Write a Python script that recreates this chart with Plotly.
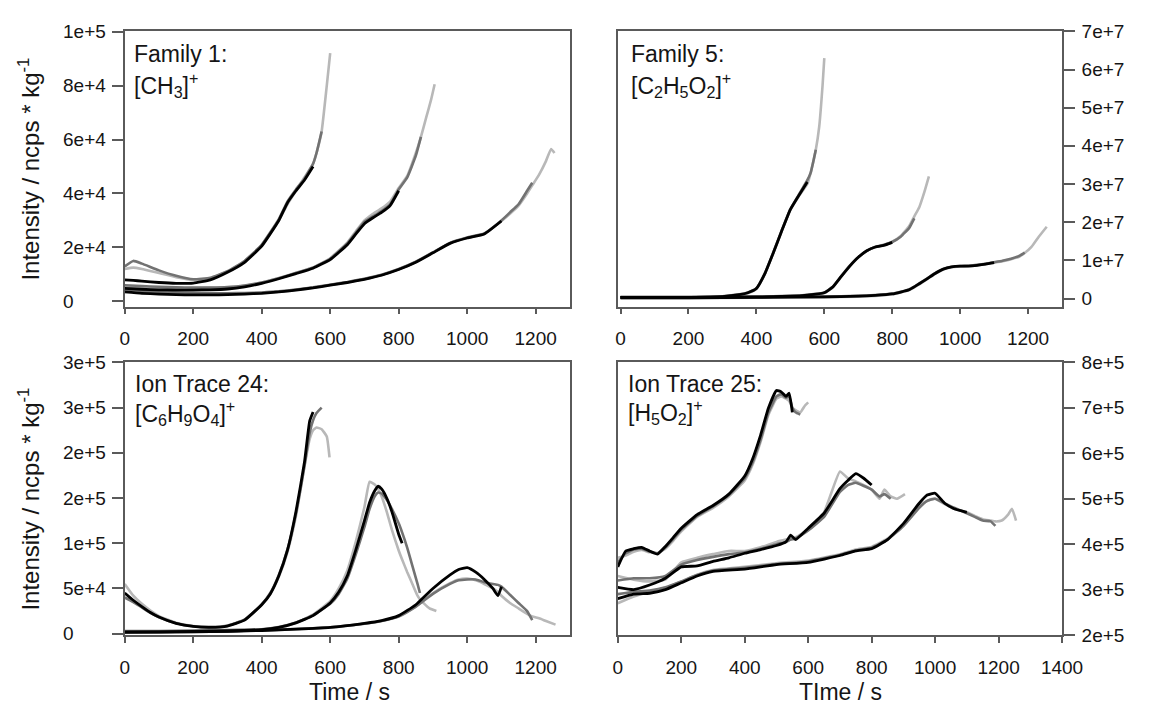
import plotly.graph_objects as go

W, H = 1149, 714

# ---------------- Panel 1: Family 1, [CH3]+ ----------------
P1A_T = [0, 25, 50, 100, 150, 200, 250, 300, 350, 400, 450, 475, 500, 525, 550, 560, 575, 590, 600]
P1A_K = [8000, 7800, 7500, 7000, 6700, 6800, 8000, 10800, 14500, 20500, 30000, 36500, 41000, 45000, 50000]
P1A_D = [13000, 15000, 14000, 11500, 9500, 8200, 8800, 11200, 15000, 21000, 30500, 37000, 41500, 45500, 51000, 55000, 63000]
P1A_L = [12000, 12500, 12000, 10500, 9000, 8000, 8500, 11000, 15000, 21000, 30000, 36000, 41000, 46000, 51000, 55000, 63000, 80000, 92000]

P1B_T = [0, 50, 100, 150, 200, 250, 300, 350, 400, 450, 500, 550, 600, 650, 675, 700, 725, 750, 775, 800, 825, 850, 865, 880, 895, 905]
P1B_K = [4800, 4500, 4300, 4200, 4200, 4300, 4600, 5400, 6700, 8400, 10300, 12300, 15500, 21000, 25000, 28800, 31000, 33000, 35500, 41000]
P1B_D = [6000, 5700, 5400, 5200, 5100, 5100, 5300, 5900, 7000, 8600, 10500, 12500, 15800, 21500, 25500, 29500, 31500, 33500, 36000, 41500, 46000, 54000, 61000]
P1B_L = [5500, 5200, 5000, 4900, 4900, 5000, 5200, 5800, 7000, 8700, 10600, 12600, 16000, 21800, 26000, 30000, 32500, 34500, 37000, 42000, 46500, 55000, 61000, 68000, 75000, 80500]

P1C_T = [0, 50, 100, 150, 200, 250, 300, 350, 400, 450, 500, 550, 600, 650, 700, 750, 800, 850, 900, 950, 1000, 1050, 1100, 1125, 1150, 1175, 1190, 1210, 1230, 1245, 1255]
P1C_K = [3500, 3000, 2700, 2500, 2400, 2400, 2500, 2700, 3000, 3500, 4200, 5000, 6000, 7000, 8200, 9700, 11800, 14500, 18000, 21500, 23500, 25000, 29800]
P1C_D = [4500, 4000, 3600, 3300, 3100, 3000, 3000, 3100, 3300, 3700, 4400, 5200, 6200, 7200, 8400, 9900, 12000, 14700, 18200, 21700, 23700, 25200, 30000, 33000, 36000, 41000, 44000]
P1C_L = [4200, 3800, 3400, 3100, 2900, 2800, 2800, 2900, 3200, 3600, 4300, 5100, 6100, 7100, 8300, 9800, 11900, 14600, 18100, 21600, 23600, 25000, 29800, 32500, 35500, 40000, 43000, 47000, 52000, 56500, 55000]

# ---------------- Panel 2: Family 5, [C2H5O2]+ ----------------
P2A_T = [0, 100, 200, 300, 350, 375, 400, 425, 450, 475, 500, 525, 550, 560, 575, 585, 595, 600]
P2A_K = [3e5, 3e5, 3e5, 5e5, 1.0e6, 1.5e6, 2.6e6, 6.5e6, 1.2e7, 1.78e7, 2.33e7, 2.7e7, 3.05e7]
P2A_D = [4e5, 4e5, 4e5, 6e5, 1.1e6, 1.6e6, 2.7e6, 6.6e6, 1.21e7, 1.79e7, 2.34e7, 2.72e7, 3.1e7, 3.3e7, 3.9e7]
P2A_L = [2e5, 2e5, 2e5, 4e5, 9e5, 1.4e6, 2.5e6, 6.4e6, 1.19e7, 1.77e7, 2.32e7, 2.68e7, 3.0e7, 3.3e7, 3.9e7, 4.5e7, 5.6e7, 6.3e7]

P2B_T = [0, 200, 400, 500, 550, 600, 625, 650, 675, 700, 725, 750, 775, 800, 825, 850, 865, 880, 895, 908]
P2B_K = [3e5, 3e5, 4e5, 6e5, 9e5, 1.5e6, 3.0e6, 5.8e6, 8.5e6, 1.08e7, 1.25e7, 1.35e7, 1.39e7, 1.47e7]
P2B_D = [4e5, 4e5, 5e5, 7e5, 1.0e6, 1.6e6, 3.1e6, 5.9e6, 8.6e6, 1.08e7, 1.25e7, 1.35e7, 1.4e7, 1.48e7, 1.62e7, 1.85e7, 2.1e7]
P2B_L = [2e5, 2e5, 3e5, 5e5, 8e5, 1.4e6, 2.9e6, 5.7e6, 8.4e6, 1.07e7, 1.25e7, 1.35e7, 1.41e7, 1.49e7, 1.64e7, 1.9e7, 2.15e7, 2.4e7, 2.8e7, 3.2e7]

P2C_T = [0, 200, 400, 600, 700, 750, 800, 850, 900, 925, 950, 975, 1000, 1025, 1050, 1075, 1100, 1125, 1150, 1175, 1190, 1210, 1230, 1255]
P2C_K = [2e5, 2e5, 3e5, 4e5, 6e5, 8e5, 1.2e6, 2.3e6, 5.0e6, 6.5e6, 7.7e6, 8.3e6, 8.5e6, 8.5e6, 8.7e6, 9.0e6, 9.4e6]
P2C_D = [3e5, 3e5, 4e5, 5e5, 7e5, 9e5, 1.3e6, 2.4e6, 5.1e6, 6.6e6, 7.7e6, 8.3e6, 8.5e6, 8.6e6, 8.8e6, 9.1e6, 9.5e6, 9.9e6, 1.04e7, 1.12e7, 1.2e7]
P2C_L = [1e5, 1e5, 2e5, 3e5, 5e5, 7e5, 1.1e6, 2.2e6, 4.9e6, 6.4e6, 7.6e6, 8.2e6, 8.4e6, 8.5e6, 8.7e6, 9.0e6, 9.4e6, 9.8e6, 1.03e7, 1.1e7, 1.19e7, 1.35e7, 1.6e7, 1.88e7]

# ---------------- Panel 3: Ion Trace 24, [C6H9O4]+ ----------------
P3A_T = [0, 25, 50, 75, 100, 150, 200, 250, 300, 350, 400, 425, 450, 475, 500, 525, 540, 550, 560, 575, 590, 598]
P3A_K = [45000, 37000, 30000, 23500, 18500, 11500, 8000, 7000, 8500, 15000, 32000, 44000, 64000, 92000, 135000, 190000, 235000, 245000]
P3A_D = [40000, 35000, 29000, 23000, 18000, 11500, 8200, 7300, 8800, 15500, 32500, 45000, 65000, 93000, 133000, 186000, 222000, 236000, 244000, 250000]
P3A_L = [55000, 42000, 33000, 25500, 19500, 12000, 8500, 7500, 9000, 15500, 32000, 44000, 63000, 90000, 130000, 185000, 215000, 225000, 228000, 226000, 218000, 195000]

P3B_T = [0, 100, 200, 300, 400, 450, 500, 550, 600, 625, 650, 675, 700, 715, 730, 740, 750, 765, 780, 800, 810, 825, 840, 855, 862, 875, 890, 910]
P3B_K = [2000, 2000, 2500, 3000, 4500, 7000, 12000, 20000, 34000, 46000, 64000, 93000, 125000, 145000, 158000, 163000, 160000, 150000, 135000, 110000, 100000]
P3B_D = [3000, 3000, 3500, 4000, 5000, 7500, 12500, 20500, 33000, 44000, 61000, 88000, 118000, 138000, 152000, 156000, 155000, 148000, 138000, 122000, 112000, 95000, 75000, 55000, 45000]
P3B_L = [1500, 1500, 2000, 2500, 4000, 6500, 12000, 21000, 36000, 50000, 70000, 102000, 140000, 168000, 165000, 160000, 152000, 135000, 115000, 92000, 82000, 68000, 55000, 42000, 38000, 33000, 28000, 25000]

P3C_T = [0, 200, 400, 500, 600, 700, 750, 800, 850, 900, 950, 975, 1000, 1025, 1050, 1075, 1090, 1100, 1125, 1150, 1175, 1190, 1210, 1230, 1258]
P3C_K = [1500, 2000, 3500, 5000, 7000, 11500, 14500, 20000, 32000, 50000, 65000, 71000, 73000, 68000, 60000, 50000, 42000, 52000]
P3C_D = [2500, 2500, 3800, 5200, 7200, 11000, 14000, 19000, 30000, 44000, 55000, 59000, 60000, 60000, 57000, 55000, 54000, 52000, 43000, 34000, 25000, 15000]
P3C_L = [2000, 2200, 3600, 5000, 7000, 11000, 14000, 19500, 30000, 45000, 56000, 60000, 61000, 59000, 55000, 50000, 46000, 42000, 34000, 28000, 22000, 19000, 17000, 14000, 10000]

# ---------------- Panel 4: Ion Trace 25, [H5O2]+ ----------------
P4A_T = [0, 25, 50, 75, 100, 125, 150, 175, 200, 250, 300, 350, 400, 425, 450, 475, 500, 515, 530, 540, 550, 560, 575, 590, 600]
P4A_K = [350000, 385000, 390000, 393000, 385000, 378000, 395000, 415000, 435000, 465000, 485000, 510000, 550000, 588000, 640000, 700000, 738000, 735000, 725000, 732000, 690000]
P4A_D = [360000, 380000, 388000, 390000, 384000, 380000, 393000, 412000, 432000, 462000, 483000, 508000, 545000, 580000, 630000, 690000, 725000, 730000, 722000, 725000, 700000, 690000, 685000]
P4A_L = [370000, 375000, 383000, 387000, 382000, 380000, 390000, 408000, 428000, 460000, 480000, 505000, 540000, 575000, 625000, 685000, 720000, 725000, 720000, 715000, 700000, 695000, 690000, 705000, 712000]

P4B_T = [0, 50, 100, 150, 200, 250, 300, 350, 400, 450, 500, 530, 545, 560, 600, 650, 700, 725, 750, 775, 800, 825, 840, 860, 880, 905]
P4B_K = [305000, 300000, 310000, 325000, 350000, 352000, 362000, 370000, 380000, 388000, 397000, 405000, 420000, 410000, 435000, 468000, 522000, 540000, 555000, 545000, 530000]
P4B_D = [320000, 325000, 325000, 330000, 355000, 365000, 372000, 378000, 382000, 390000, 400000, 405000, 410000, 412000, 430000, 460000, 515000, 530000, 535000, 528000, 520000, 505000, 510000, 500000]
P4B_L = [330000, 322000, 318000, 322000, 360000, 370000, 378000, 385000, 385000, 393000, 405000, 410000, 412000, 415000, 432000, 470000, 560000, 545000, 538000, 530000, 520000, 500000, 520000, 505000, 500000, 510000]

P4C_T = [0, 50, 100, 150, 200, 250, 300, 400, 500, 600, 700, 750, 800, 850, 900, 950, 975, 1000, 1030, 1060, 1100, 1125, 1150, 1175, 1190, 1210, 1230, 1242, 1255]
P4C_K = [280000, 290000, 292000, 300000, 315000, 330000, 340000, 345000, 355000, 360000, 375000, 385000, 390000, 410000, 445000, 490000, 508000, 512000, 490000, 478000, 470000]
P4C_D = [290000, 295000, 298000, 305000, 318000, 332000, 342000, 348000, 356000, 362000, 376000, 386000, 392000, 410000, 440000, 480000, 495000, 500000, 490000, 480000, 468000, 460000, 452000, 450000, 440000]
P4C_L = [270000, 285000, 295000, 303000, 318000, 333000, 343000, 350000, 358000, 364000, 378000, 388000, 394000, 412000, 442000, 485000, 495000, 500000, 488000, 478000, 470000, 462000, 455000, 452000, 450000, 452000, 465000, 478000, 452000]

# ---------------- Ticks ----------------
X_TICKS_A = [0, 200, 400, 600, 800, 1000, 1200]
X_TICKS_B = [0, 200, 400, 600, 800, 1000, 1200, 1400]
Y1_TICKS = [0, 2e4, 4e4, 6e4, 8e4, 1e5]
Y1_LABELS = ["0", "2e+4", "4e+4", "6e+4", "8e+4", "1e+5"]
Y2_TICKS = [0, 1e7, 2e7, 3e7, 4e7, 5e7, 6e7, 7e7]
Y2_LABELS = ["0", "1e+7", "2e+7", "3e+7", "4e+7", "5e+7", "6e+7", "7e+7"]
Y3_TICKS = [0, 5e4, 1e5, 1.5e5, 2e5, 2.5e5, 3e5]
Y3_LABELS = ["0", "5e+4", "1e+5", "2e+5", "2e+5", "3e+5", "3e+5"]
Y4_TICKS = [2e5, 3e5, 4e5, 5e5, 6e5, 7e5, 8e5]
Y4_LABELS = ["2e+5", "3e+5", "4e+5", "5e+5", "6e+5", "7e+5", "8e+5"]

PANEL_TITLES = ["Family 1:", "Family 5:", "Ion Trace 24:", "Ion Trace 25:"]
PANEL_IONS = ["[CH<sub>3</sub>]<sup>+</sup>", "[C<sub>2</sub>H<sub>5</sub>O<sub>2</sub>]<sup>+</sup>",
              "[C<sub>6</sub>H<sub>9</sub>O<sub>4</sub>]<sup>+</sup>", "[H<sub>5</sub>O<sub>2</sub>]<sup>+</sup>"]

COL_K, COL_D, COL_L = "#000000", "#727272", "#b8b8b8"
FONT = "Liberation Sans, Arial, sans-serif"
TXT = "#151515"

panels = [
    ("x", "y", [(P1A_T, P1A_K, P1A_D, P1A_L), (P1B_T, P1B_K, P1B_D, P1B_L), (P1C_T, P1C_K, P1C_D, P1C_L)]),
    ("x2", "y2", [(P2A_T, P2A_K, P2A_D, P2A_L), (P2B_T, P2B_K, P2B_D, P2B_L), (P2C_T, P2C_K, P2C_D, P2C_L)]),
    ("x3", "y3", [(P3A_T, P3A_K, P3A_D, P3A_L), (P3B_T, P3B_K, P3B_D, P3B_L), (P3C_T, P3C_K, P3C_D, P3C_L)]),
    ("x4", "y4", [(P4A_T, P4A_K, P4A_D, P4A_L), (P4B_T, P4B_K, P4B_D, P4B_L), (P4C_T, P4C_K, P4C_D, P4C_L)]),
]

fig = go.Figure()
for xa, ya, groups in panels:
    for col, idx, lw in ((COL_L, 3, 2.6), (COL_D, 2, 2.6), (COL_K, 1, 2.8)):
        for g in groups:
            t = g[0]
            v = g[idx]
            fig.add_trace(go.Scatter(x=t[:len(v)], y=v, mode="lines", xaxis=xa, yaxis=ya,
                                     line=dict(color=col, width=lw, shape="spline", smoothing=0.4),
                                     showlegend=False, hoverinfo="skip"))


def px(xp):
    return xp / W


def py(yp):
    return 1 - yp / H


XL = [px(122.5), px(578)]
XR = [px(627), px(1081.5)]
YT = [py(305.5), py(22)]
YB = [py(644), py(363)]

axis_common = dict(showline=True, linecolor="#5a5a5a", linewidth=1.5, mirror=True,
                   ticks="outside", tickcolor="#5a5a5a", tickwidth=1.5, showgrid=False,
                   zeroline=False, tickfont=dict(family=FONT, size=19, color=TXT))


def xax(domain, anchor, rng, ticks):
    d = dict(axis_common)
    d.update(domain=domain, anchor=anchor, range=rng, tickvals=ticks,
             ticktext=[str(v) for v in ticks], ticklen=6, ticklabelstandoff=8)
    return d


def yax(domain, anchor, rng, ticks, labels, side):
    d = dict(axis_common)
    d.update(domain=domain, anchor=anchor, range=rng, tickvals=ticks, ticktext=labels,
             ticklen=11, side=side)
    if side == "left":
        d.update(showticklabels=False)
    else:
        d.update(ticklabelstandoff=3)
    return d


fig.update_layout(
    width=W, height=H, autosize=False,
    margin=dict(l=0, r=0, t=0, b=0, pad=0),
    paper_bgcolor="white", plot_bgcolor="white",
    font=dict(family=FONT, color=TXT),
    xaxis=xax(XL, "y", [0, 1300], X_TICKS_A),
    yaxis=yax(YT, "x", [-1900, 100100], Y1_TICKS, Y1_LABELS, "left"),
    xaxis2=xax(XR, "y2", [-8, 1300], X_TICKS_A),
    yaxis2=yax(YT, "x2", [-2.1e6, 7.0e7], Y2_TICKS, Y2_LABELS, "right"),
    xaxis3=xax(XL, "y3", [0, 1300], X_TICKS_A),
    yaxis3=yax(YB, "x3", [-1500, 3.0e5], Y3_TICKS, Y3_LABELS, "left"),
    xaxis4=xax(XR, "y4", [0, 1400], X_TICKS_B),
    yaxis4=yax(YB, "x4", [2e5, 8e5], Y4_TICKS, Y4_LABELS, "right"),
)

ann = []
# left-aligned tick labels for the left-hand y axes (as in the reference)
for yref, ticks, labels in (("y", Y1_TICKS, Y1_LABELS), ("y3", Y3_TICKS, Y3_LABELS)):
    for v, lab in zip(ticks, labels):
        ann.append(dict(text=lab, x=px(57), y=v, xref="paper", yref=yref,
                        xanchor="left", yanchor="middle", showarrow=False,
                        font=dict(family=FONT, size=19, color=TXT)))

title_pos = [(130, 45), (638, 45), (131, 385), (635, 385)]
ion_pos = [(130, 77), (638, 77), (131, 415), (635, 414)]
for (tx, ty), (ix, iy), ttl, ion in zip(title_pos, ion_pos, PANEL_TITLES, PANEL_IONS):
    ann.append(dict(text=ttl, x=px(tx), y=py(ty), xref="paper", yref="paper",
                    xanchor="left", yanchor="middle", showarrow=False,
                    font=dict(family=FONT, size=23, color=TXT)))
    ann.append(dict(text=ion, x=px(ix), y=py(iy), xref="paper", yref="paper",
                    xanchor="left", yanchor="middle", showarrow=False,
                    font=dict(family=FONT, size=23, color=TXT)))

for yc in (164, 504):
    ann.append(dict(text="Intensity / ncps * kg<sup>-1</sup>", x=px(25), y=py(yc),
                    xref="paper", yref="paper", xanchor="center", yanchor="middle",
                    textangle=-90, showarrow=False,
                    font=dict(family=FONT, size=24, color=TXT)))

ann.append(dict(text="Time / s", x=px(352), y=py(703), xref="paper", yref="paper",
                xanchor="center", yanchor="middle", showarrow=False,
                font=dict(family=FONT, size=23, color=TXT)))
ann.append(dict(text="TIme / s", x=px(855), y=py(703), xref="paper", yref="paper",
                xanchor="center", yanchor="middle", showarrow=False,
                font=dict(family=FONT, size=23, color=TXT)))

fig.update_layout(annotations=ann)
fig.write_html("out.html",
               post_script="document.body.style.margin='0';document.body.style.overflow='hidden';")
